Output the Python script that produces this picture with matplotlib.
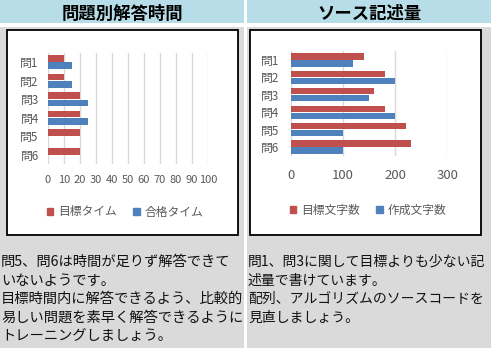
import matplotlib
matplotlib.use("Agg")
import matplotlib.pyplot as plt
import numpy as np
from matplotlib.patches import Rectangle, Patch

plt.rcParams['font.family'] = ['Noto Sans CJK JP', 'DejaVu Sans']

# data
questions = ["問1", "問2", "問3", "問4", "問5", "問6"]
target_time = [10, 10, 20, 20, 20, 20]
pass_time = [15, 15, 25, 25, 0, 0]
target_chars = [140, 180, 160, 180, 220, 230]
written_chars = [120, 200, 150, 200, 100, 100]

left_title = "問題別解答時間"
right_title = "ソース記述量"
left_notes = ["問5、問6は時間が足りず解答できて",
              "いないようです。",
              "目標時間内に解答できるよう、比較的",
              "易しい問題を素早く解答できるように",
              "トレーニングしましょう。"]
right_notes = ["問1、問3に関して目標よりも少ない記",
               "述量で書けています。",
               "配列、アルゴリズムのソースコードを",
               "見直しましょう。"]

RED = "#c0504d"
BLUE = "#4f81bd"
GRID = "#d9d9d9"
TICK = "#595959"

W, H = 491, 348
def fx(x): return x / W
def fy(y): return 1 - y / H

fig = plt.figure(figsize=(W / 100, H / 100), dpi=100, facecolor="#dadada")

def rect(x0, y0, x1, y1, **kw):
    fig.patches.append(Rectangle((fx(x0), fy(y1)), fx(x1) - fx(x0), fy(y0) - fy(y1),
                                 transform=fig.transFigure, zorder=-5, **kw))

# title bars and white separators
rect(0, 0, 244, 23.5, facecolor="#b7dee8", edgecolor="none")
rect(247, 0, 491, 23.5, facecolor="#b7dee8", edgecolor="none")
rect(0, 23.5, 491, 27, facecolor="white", edgecolor="none")
rect(244, 0, 247, 348, facecolor="white", edgecolor="none")
# chart boxes
rect(6.5, 29.5, 237.5, 234.5, facecolor="white", edgecolor="black", linewidth=1.3)
rect(249.5, 29.5, 480.5, 234.5, facecolor="white", edgecolor="black", linewidth=1.3)

fig.text(fx(122), fy(13.5), left_title, ha="center", va="center",
         fontsize=12.5, fontweight="bold", color="black")
fig.text(fx(369), fy(13.5), right_title, ha="center", va="center",
         fontsize=12.5, fontweight="bold", color="black")

def bar_chart(box, s1, s2, xmax, ticks, tick_fs, xpad, ypad, labels, leg_xy, leg_fs):
    ax = fig.add_axes(box)
    y = np.arange(len(questions))
    h = 0.36
    ax.barh(y - 0.2, s1, height=h, color=RED, linewidth=0)
    ax.barh(y + 0.2, s2, height=h, color=BLUE, linewidth=0)
    ax.set_xlim(0, xmax)
    ax.set_ylim(len(questions) - 0.5, -0.5)
    ax.set_yticks(y)
    ax.set_yticklabels(questions)
    ax.set_xticks(ticks)
    for s in ax.spines.values():
        s.set_visible(False)
    ax.set_facecolor("none")
    ax.xaxis.grid(True, color=GRID, linewidth=1)
    ax.set_axisbelow(True)
    ax.tick_params(axis="x", length=0, pad=xpad, labelsize=tick_fs, labelcolor=TICK)
    ax.tick_params(axis="y", length=0, pad=ypad, labelsize=8.5, labelcolor=TICK)
    handles = [Patch(color=RED, label=labels[0]), Patch(color=BLUE, label=labels[1])]
    ax.legend(handles=handles, loc="center", ncol=2, frameon=False,
              bbox_to_anchor=(fx(leg_xy[0]), fy(leg_xy[1])), bbox_transform=fig.transFigure,
              fontsize=leg_fs, labelcolor=TICK, handlelength=0.55, handleheight=0.55,
              handletextpad=0.4, columnspacing=1.4)
    return ax

bar_chart([fx(47.7), fy(164.3), fx(208) - fx(47.7), fy(52.7) - fy(164.3)],
          target_time, pass_time, 100, list(range(0, 101, 10)), 8, 7.5, 6.5,
          ["目標タイム", "合格タイム"], (125, 212), 8.5)
bar_chart([fx(290.7), fy(155.7), fx(447.3) - fx(290.7), fy(51.3) - fy(155.7)],
          target_chars, written_chars, 300, [0, 100, 200, 300], 9.5, 9.5, 8,
          ["目標文字数", "作成文字数"], (368, 210.5), 8.5)

line_y = [262, 280.5, 299, 317.5, 336]
for i, t in enumerate(left_notes):
    fig.text(fx(1), fy(line_y[i]), t, ha="left", va="center", fontsize=10.3, color="#111111")
for i, t in enumerate(right_notes):
    fig.text(fx(248), fy(line_y[i]), t, ha="left", va="center", fontsize=10.0, color="#111111")

fig.savefig("out.png", dpi=100, facecolor=fig.get_facecolor())
